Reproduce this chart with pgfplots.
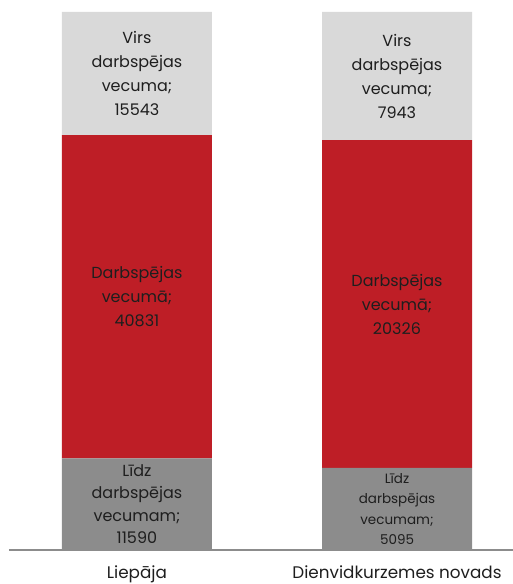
\documentclass[border=0pt]{standalone}
\usepackage{fontspec}
\setmainfont{Poppins}
\usepackage{pgfplots}
\pgfplotsset{compat=1.18}
\definecolor{cRed}{RGB}{190,30,38}
\definecolor{cDark}{RGB}{140,140,140}
\definecolor{cLight}{RGB}{217,217,217}
\definecolor{cText}{RGB}{30,30,30}
\definecolor{cAxis}{RGB}{140,140,140}
\protected\def\sm{\fontsize{13.5}{20.5}\selectfont}
\protected\def\NL{\\}
\protected\def\NLs{\\[-3.5pt]}
\protected\def\NLm{\\[-1.5pt]}
\begin{document}
\begin{tikzpicture}
\path[use as bounding box] (-9pt,-34pt) rectangle (504pt,550pt);
\begin{axis}[
  at={(0,0)}, anchor=south west,
  scale only axis, width=504pt, height=550pt,
  xmin=-0.492, xmax=1.446, ymin=0, ymax=102.23,
  ybar stacked, bar width=150pt,
  axis x line*=bottom, axis y line=none,
  x axis line style={draw=cAxis, line width=1.2pt},
  xtick={0,1}, xticklabels={Liepāja,Dienvidkurzemes novads},
  major tick length=0pt,
  xticklabel style={font=\fontsize{16.8}{20}\selectfont, text=cText, yshift=-12pt},
  nodes near coords, point meta=explicit symbolic,
  every node near coord/.append style={align=center, anchor=center, text=cText,
    font=\fontsize{16}{24}\selectfont},
]
% percentages of each total (Liepaja 67964, Dienvidkurzemes novads 33364)
\addplot[fill=cDark, draw=none] coordinates {
  (0,17.053) [Līdz\NLm darbspējas\NLm vecumam;\NLm 11590]
  (1,15.271) [\sm Līdz\NLs\sm darbspējas\NLs\sm vecumam;\NLs\sm 5095]
};
\addplot[fill=cRed, draw=none] coordinates {
  (0,60.078) [Darbspējas\NL vecumā;\NL 40831]
  (1,60.922) [Darbspējas\NL vecumā;\NL 20326]
};
\addplot[fill=cLight, draw=none] coordinates {
  (0,22.870) [Virs\NL darbspējas\NL vecuma;\NL 15543]
  (1,23.807) [Virs\NL darbspējas\NL vecuma;\NL 7943]
};
\end{axis}
\end{tikzpicture}
\end{document}
